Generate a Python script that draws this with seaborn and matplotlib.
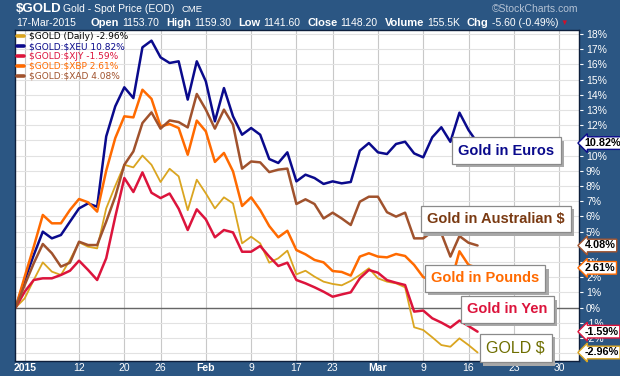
import numpy as np
import pandas as pd
import matplotlib
matplotlib.use("Agg")
import matplotlib.pyplot as plt
import matplotlib.patheffects as pe
from matplotlib.lines import Line2D
import seaborn as sns

FRAME = "#2b5683"

# trading days, 31-Dec-2014 is the base (0 %)
holidays = pd.to_datetime(["2015-01-01", "2015-01-19", "2015-02-16", "2015-04-03"])
days = pd.bdate_range("2014-12-31", "2015-04-10")
days = days[~days.isin(holidays)]

tick_dates = ["2015-01-02", "2015-01-12", "2015-01-20", "2015-01-26", "2015-02-02",
              "2015-02-09", "2015-02-17", "2015-02-23", "2015-03-02", "2015-03-09",
              "2015-03-16", "2015-03-23", "2015-03-30"]
tick_labels = ["2015", "12", "20", "26", "Feb", "9", "17", "23", "Mar", "9", "16", "23", "30"]
bold_ticks = ["2015", "Feb", "Mar"]

# % change since 31-Dec-2014
gold_usd = [0, 0.6, 1.81, 2.97, 2.36, 2.14, 3.13, 4.29, 4.0, 3.89,
            6.52, 8.0, 9.39, 9.22, 10.0, 9.39, 8.26, 9.13, 8.63, 6.4,
            8.41, 7.51, 6.52, 7.25, 6.85, 4.22, 4.66, 4.22, 2.95, 3.24,
            3.74, 2.18, 2.42, 2.03, 1.7, 1.55, 1.46, 1.75, 2.14, 2.58,
            1.92, 1.7, 1.59, 1.33, -1.3, -1.48, -1.96, -2.47, -2.58, -2.03,
            -2.47, -2.96]
gold_eur = [0, 1.81, 3.45, 4.99, 4.55, 4.77, 5.65, 6.52, 6.85, 6.63,
            11.26, 13.24, 14.49, 13.78, 17.12, 17.56, 16.46, 16.09, 16.2, 13.68,
            16.2, 14.88, 12.25, 14.44, 12.58, 11.37, 11.81, 11.37, 9.77, 9.51,
            10.21, 8.3, 8.74, 8.52, 8.13, 8.3, 8.17, 8.26, 10.32, 10.82,
            10.21, 10.1, 10.76, 10.91, 10.14, 9.88, 11.2, 11.86, 10.9, 12.82,
            11.68, 10.82]
gold_jpy = [0, 1.04, 1.81, 1.92, 1.92, 2.14, 2.42, 3.08, 2.47, 1.81,
            3.24, 5.97, 8.52, 7.6, 8.89, 7.55, 7.2, 7.5, 6.5, 5.1,
            6.46, 5.8, 4.62, 5.1, 4.94, 3.67, 3.67, 4.05, 3.35, 2.73,
            2.95, 1.81, 1.59, 1.33, 1.04, 0.71, 0.86, 1.0, 1.92, 2.47,
            2.29, 1.8, 1.63, 1.48, -0.27, -0.2, -0.71, -0.99, -1.32, -0.86,
            -1.22, -1.59]
gold_gbp = [0, 2.03, 4.0, 6.09, 5.54, 5.54, 6.42, 7.14, 6.92, 6.31,
            9.0, 11.15, 12.58, 12.51, 14.33, 13.73, 11.92, 12.07, 11.81, 10.05,
            12.3, 11.59, 9.58, 10.17, 8.96, 6.68, 7.25, 6.41, 5.36, 4.62,
            5.05, 3.78, 3.5, 3.13, 2.97, 2.4, 2.34, 2.1, 3.35, 3.57,
            3.35, 3.3, 3.52, 3.39, 2.8, 2.0, 1.8, 1.6, 1.5, 3.7,
            2.8, 2.61]
gold_aud = [0, 1.48, 2.91, 4.18, 3.57, 2.69, 2.95, 4.33, 4.11, 4.11,
            5.65, 7.3, 9.39, 10.27, 12.14, 12.84, 11.77, 12.31, 12.2, 11.85,
            14.05, 13.02, 11.77, 13.02, 12.03, 9.14, 9.61, 9.55, 8.91, 9.07,
            9.14, 6.81, 7.12, 6.81, 5.86, 6.24, 5.86, 5.43, 6.96, 7.29,
            7.29, 6.27, 5.98, 6.24, 4.55, 4.55, 4.99, 4.88, 3.35, 4.7,
            4.26, 4.08]

series = ["$GOLD", "$GOLD:$XEU", "$GOLD:$XJY", "$GOLD:$XBP", "$GOLD:$XAD"]
legend_labels = ["\\$GOLD (Daily) -2.96%", "\\$GOLD:\\$XEU 10.82%", "\\$GOLD:\\$XJY -1.59%",
                 "\\$GOLD:\\$XBP 2.61%", "\\$GOLD:\\$XAD 4.08%"]
colors = ["#daa520", "#0a0a8c", "#dc143c", "#ff6a00", "#a0522d"]
text_colors = ["#000000", "#0a0a8c", "#dc143c", "#ff6a00", "#a0522d"]
widths = [1.3, 1.8, 1.8, 1.8, 1.8]
last_values = [-2.96, 10.82, -1.59, 2.61, 4.08]

box_texts = ["Gold in Euros", "Gold in Australian \\$", "Gold in Pounds", "Gold in Yen", "GOLD \\$"]
box_colors = ["#0a0a8c", "#7a3a12", "#ff6a00", "#dc143c", "#6e6e00"]
box_x = [54.2, 53.0, 51.8, 54.3, 55.2]
box_y = [10.33, 5.82, 1.91, -0.13, -2.68]
box_bold = [True, True, True, True, False]

sns.set_style("white")
plt.rcParams["font.family"] = ["Liberation Sans", "DejaVu Sans"]

values = [gold_usd, gold_eur, gold_jpy, gold_gbp, gold_aud]
df = pd.DataFrame({name: v for name, v in zip(series, values)})
df["day"] = np.arange(len(gold_usd))
long = df.melt(id_vars="day", var_name="series", value_name="pct")

fig = plt.figure(figsize=(6.2, 3.76), dpi=100, facecolor=FRAME)
ax = fig.add_axes([15 / 620, 1 - 361 / 376, 564 / 620, 331 / 376])
ax.set_facecolor("white")

for name, c, w in zip(series, colors, widths):
    sns.lineplot(data=long[long["series"] == name], x="day", y="pct",
                 color=c, linewidth=w, ax=ax, legend=False)

ax.axhline(0, color="#666666", lw=1, zorder=1)

xt = [days.get_loc(pd.Timestamp(d)) for d in tick_dates]
ax.set_xticks(xt)
ax.set_xticklabels(tick_labels)
for lab in ax.get_xticklabels():
    if lab.get_text() in bold_ticks:
        lab.set_fontweight("bold")
ax.set_xticks(np.arange(0, 63), minor=True)
ax.set_xlim(-0.07, 62.2)
ax.set_ylim(-3.52, 18.26)

yt = list(range(-3, 19))
ax.set_yticks(yt)
ax.set_yticklabels(["" if v == -3 else f"{v}%" for v in yt])
ax.yaxis.tick_right()
ax.grid(axis="y", color="#e2e2e2", lw=0.8, zorder=0)
ax.grid(axis="x", color="#c8c8c8", lw=0.8, zorder=0)
ax.set_axisbelow(True)
ax.set_xlabel("")
ax.set_ylabel("")
ax.tick_params(axis="y", colors="white", labelsize=7.5, length=3, width=0.8, pad=2)
ax.tick_params(axis="x", which="major", colors="white", labelsize=7.5, length=3,
               width=0.8, pad=1.5, direction="in")
ax.tick_params(axis="x", which="minor", colors="#8a8a8a", length=2, width=0.6, direction="in")
for s in ax.spines.values():
    s.set_color("#0d1f3c")
    s.set_linewidth(1)

handles = [Line2D([0], [0], color=c, lw=2.6) for c in colors]
leg = ax.legend(handles, legend_labels, loc="upper left", frameon=False,
                prop={"family": "DejaVu Sans", "size": 6.5},
                handlelength=0.8, handletextpad=0.5, labelspacing=0.1,
                borderaxespad=0.15, borderpad=0.1)
for t, c in zip(leg.get_texts(), text_colors):
    t.set_color(c)

# callout boxes with a grey drop shadow
shadow = [pe.SimplePatchShadow(offset=(2.5, -2.5), shadow_rgbFace="#a8a8a8", alpha=1), pe.Normal()]
for txt, c, x, y, b in zip(box_texts, box_colors, box_x, box_y, box_bold):
    a = ax.annotate(txt, xy=(x, y), color=c, zorder=6, ha="center", va="center",
                    fontsize=10.5 if b else 11.5, fontweight="bold" if b else "normal",
                    annotation_clip=False,
                    bbox=dict(boxstyle="square,pad=0.42", fc="white", ec="#8a8a8a", lw=0.9))
    a.get_bbox_patch().set_path_effects(shadow)

# last values on the right axis
for v, c in zip(last_values, colors):
    ax.annotate(f"{v:.2f}%", xy=(1, v), xycoords=("axes fraction", "data"),
                xytext=(4, 0), textcoords="offset points", ha="left", va="center",
                fontsize=7.8, fontweight="bold", color="black", annotation_clip=False,
                zorder=8, bbox=dict(boxstyle="larrow,pad=0.12", fc="white", ec=c, lw=1))

# header
fig.text(16 / 620, 1 - 9.5 / 376, "\\$GOLD", color="white", fontsize=9.5, fontweight="bold", va="center")
fig.text(63 / 620, 1 - 9.5 / 376, "Gold - Spot Price (EOD)", color="white", fontsize=7.5, va="center")
fig.text(182 / 620, 1 - 9.5 / 376, "CME", color="white", fontsize=6.8, va="center")
fig.text(578 / 620, 1 - 9.5 / 376, "\u00a9StockCharts.com", color="#b4c2d4", fontsize=7.5, va="center", ha="right")

fig.canvas.draw()
renderer = fig.canvas.get_renderer()
pieces = [("17-Mar-2015", False, 15), ("Open", True, 3), ("1153.70", False, 7),
          ("High", True, 3), ("1159.30", False, 7), ("Low", True, 3), ("1141.60", False, 7),
          ("Close", True, 3), ("1148.20", False, 7), ("Volume", True, 3), ("155.5K", False, 7),
          ("Chg", True, 3), ("-5.60 (-0.49%)", False, 2)]
x = 16
for s, b, gap in pieces:
    t = fig.text(x / 620, 1 - 23.5 / 376, s, color="white", va="center",
                 fontsize=8 if b else 7.5, fontweight="bold" if b else "normal")
    bb = t.get_window_extent(renderer)
    x = bb.x1 + gap
fig.text(x / 620, 1 - 23.5 / 376, "\u25bc", color="#d0102a", fontsize=5.5, va="center")

fig.savefig("out.png", dpi=100, facecolor=FRAME)
